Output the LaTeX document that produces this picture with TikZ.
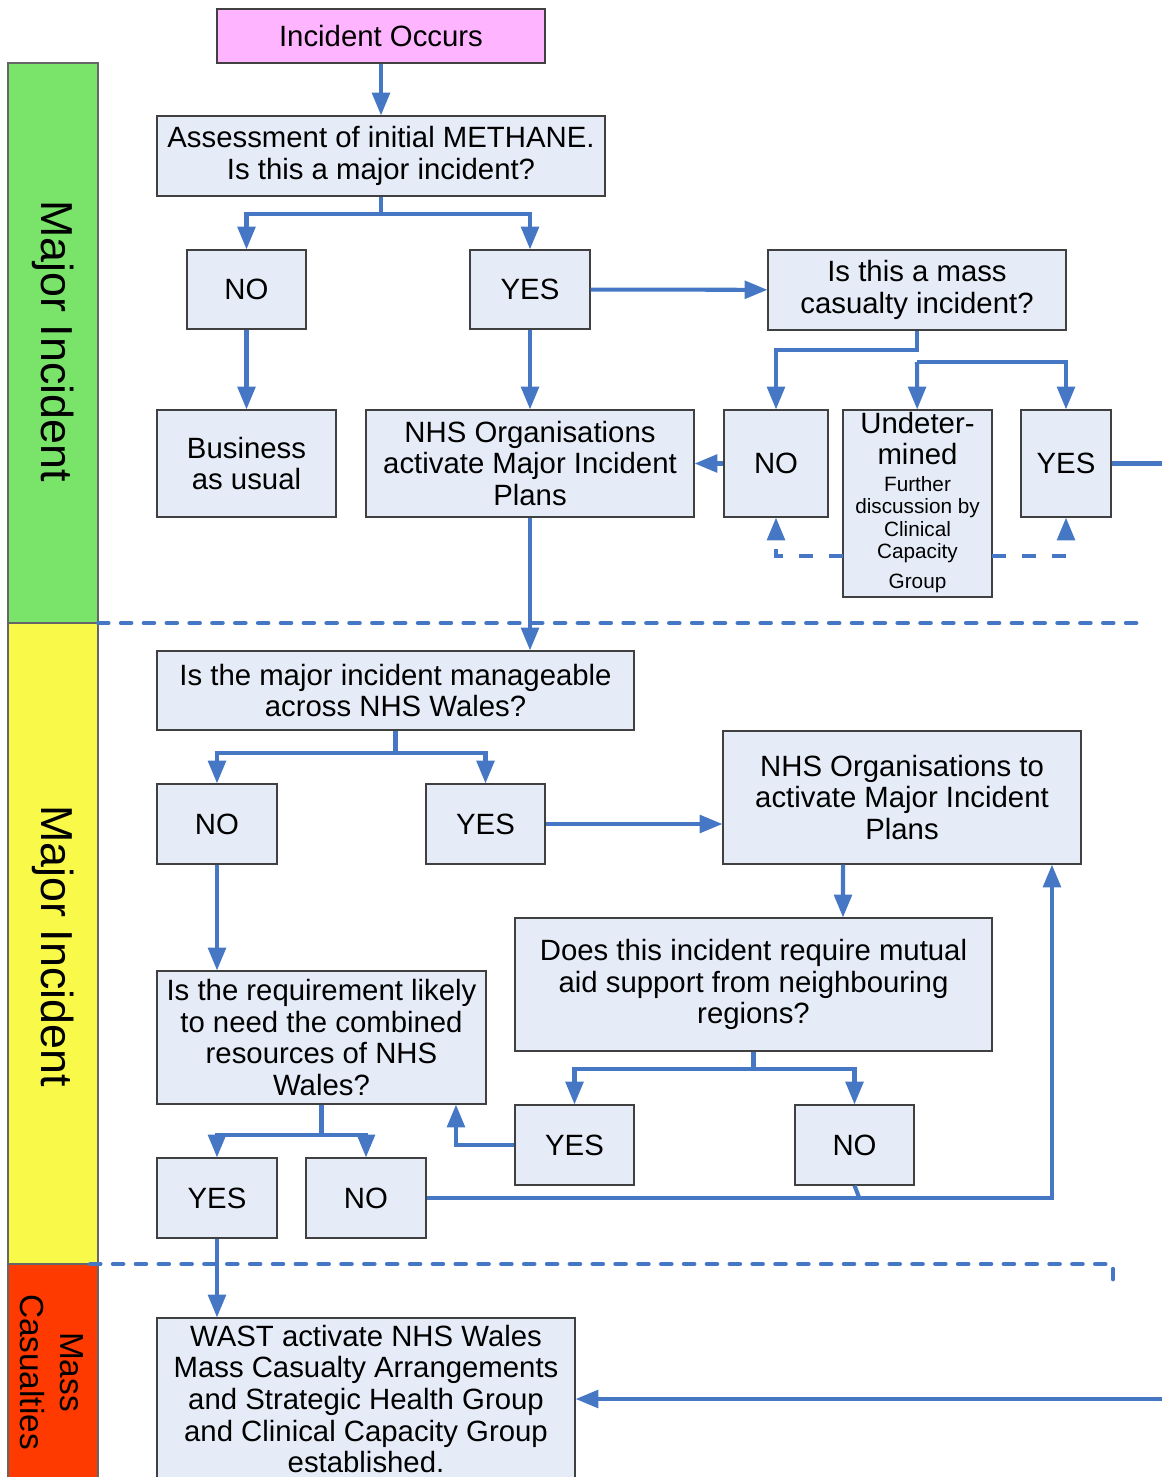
\documentclass[tikz,border=0pt]{standalone}
\usepackage{fontspec}
\setmainfont{Liberation Sans}
\usetikzlibrary{arrows.meta}
\definecolor{linkblue}{RGB}{70,119,196}
\definecolor{boxfill}{RGB}{230,236,247}
\definecolor{startpink}{RGB}{255,180,255}
\definecolor{bandgreen}{RGB}{122,227,106}
\definecolor{bandyellow}{RGB}{249,249,74}
\definecolor{bandred}{RGB}{255,58,0}
\newcommand\smalltxt{\fontsize{11.8}{12.8}\selectfont}

\begin{document}
\begin{tikzpicture}[x=0.02cm,y=-0.02cm,
  box/.style={draw=black!75,fill=boxfill,line width=0.6pt,inner sep=1pt,align=center,font=\fontsize{16.7}{18}\selectfont},
  sz/.style 2 args={minimum width=#1*0.02cm,minimum height=#2*0.02cm},
  plain/.style={draw=linkblue,line width=2.3pt},
  link/.style={plain,-{Triangle[length=13pt,width=10pt]}},
  dlink/.style={link,dash pattern=on 8pt off 9pt},
  sep/.style={draw=linkblue,line width=2.3pt,line cap=round,dash pattern=on 6pt off 7pt},
  band/.style={draw=black!60,line width=0.6pt},
  bandtext/.style={rotate=-90,align=center}]
\useasboundingbox (0,0) rectangle (1162,1477);

% side bands
\filldraw[band,fill=bandgreen] (8,63) rectangle (98,623);
\filldraw[band,fill=bandyellow] (8,623) rectangle (98,1264);
\filldraw[band,fill=bandred] (8,1264) rectangle (98,1490);
\node[bandtext,font=\fontsize{25.5}{28}\selectfont] (major1) at (53,341) {Major Incident};
\node[bandtext,font=\fontsize{25.5}{28}\selectfont] (major2) at (53,946) {Major Incident};
\node[bandtext,font=\fontsize{19}{23}\selectfont] (mass) at (52,1372) {Mass\\Casualties};

% dashed separators
\draw[sep] (98,623) -- (1145,623);
\draw[sep] (90,1264) -- (1113,1264) -- (1113,1280);

% boxes
\node[box,sz={328}{54},fill=startpink] (occurs) at (381,36) {Incident Occurs};
\node[box,sz={448}{80}] (assess) at (381,156) {Assessment of initial METHANE.\\Is this a major incident?};
\node[box,sz={119}{79}] (no1) at (246.5,289.5) {NO};
\node[box,sz={120}{79}] (yes1) at (530,289.5) {YES};
\node[box,sz={298}{80}] (masscas) at (917,290) {Is this a mass\\casualty incident?};
\node[box,sz={179}{107}] (business) at (246.5,463.5) {Business\\as usual};
\node[box,sz={328}{107}] (nhsact) at (530,463.5) {NHS Organisations\\activate Major Incident\\Plans};
\node[box,sz={104}{107}] (no2) at (776,463.5) {NO};
\node[box,sz={149}{187}] (undet) at (917.5,503.5) {Undeter-\\mined\\[-3pt]{\smalltxt\begin{tabular}[t]{@{}c@{}}Further\\discussion by\\Clinical\\Capacity\\[4pt]Group\end{tabular}}};
\node[box,sz={90}{107}] (yes2) at (1066,463.5) {YES};
\node[box,sz={477}{79}] (manage) at (395.5,690.5) {Is the major incident manageable\\across NHS Wales?};
\node[box,sz={120}{80}] (no3) at (217,824) {NO};
\node[box,sz={119}{80}] (yes3) at (485.5,824) {YES};
\node[box,sz={358}{133}] (nhsto) at (902,797.5) {NHS Organisations to\\activate Major Incident\\Plans};
\node[box,sz={477}{133}] (mutual) at (753.5,984.5) {Does this incident require mutual\\aid support from neighbouring\\regions?};
\node[box,sz={329}{133}] (require) at (321.5,1037.5) {Is the requirement likely\\to need the combined\\resources of NHS\\Wales?};
\node[box,sz={119}{80}] (yes4) at (574.5,1145) {YES};
\node[box,sz={119}{80}] (no4) at (854.5,1145) {NO};
\node[box,sz={120}{80}] (yes5) at (217,1198) {YES};
\node[box,sz={120}{80}] (no5) at (366,1198) {NO};
\node[box,sz={418}{162}] (wast) at (366,1399) {WAST activate NHS Wales\\Mass Casualty Arrangements\\and Strategic Health Group\\and Clinical Capacity Group\\established.};

% free ends and split points
\coordinate (edgeA) at (1162,463.5);
\coordinate (edgeB) at (1162,1399);
\coordinate (dashL) at (843,556);
\coordinate (dashR) at (992,556);
\coordinate (splitU) at (917,362);

% connectors
\draw[link] (occurs) -- (assess);
\draw[plain] (assess.south) -- ++(0,17) coordinate (splitA);
\draw[link] (splitA) -| (no1);
\draw[link] (splitA) -| (yes1);
\draw[link] (no1) -- (no1 |- business.north);
\draw[link] (yes1) -- (nhsact);
\draw[link] (yes1) -- (masscas);
\draw[link] (masscas.south) -- ++(0,19) -| (no2);
\draw[link] (splitU) -- (undet);
\draw[link] (splitU) -| (yes2);
\draw[link] (no2) -- (nhsact);
\draw[dlink] (dashL) -| (no2);
\draw[dlink] (dashR) -| (yes2);
\draw[plain] (yes2) -- (edgeA);
\draw[link] (nhsact.south) -- (nhsact.south |- manage.north);
\draw[plain] (manage.south) -- ++(0,22) coordinate (splitM);
\draw[link] (splitM) -| (no3);
\draw[link] (splitM) -| (yes3);
\draw[link] (yes3) -- (nhsto.west |- yes3);
\draw[link] (no3.south) -- (no3.south |- require.north);
\draw[link] ([xshift=-1.18cm]nhsto.south) -- ([xshift=1.79cm]mutual.north);
\draw[plain] (mutual.south) -- ++(0,17) coordinate (splitD);
\draw[link] (splitD) -| (yes4);
\draw[link] (splitD) -| (no4);
\draw[link] (yes4.west) -| ([xshift=2.69cm]require.south);
\draw[plain] (require.south) -- ++(0,30) coordinate (splitR);
\draw[link] (splitR) -| (yes5);
\draw[link] (splitR) -| (no5);
\draw[link] (no5.east) -| ([xshift=3cm]nhsto.south);
\draw[plain] (no4.south) -- ++(5,13);
\draw[link] (yes5.south) -- (yes5.south |- wast.north);
\draw[link] (edgeB) -- (wast);
\end{tikzpicture}
\end{document}
